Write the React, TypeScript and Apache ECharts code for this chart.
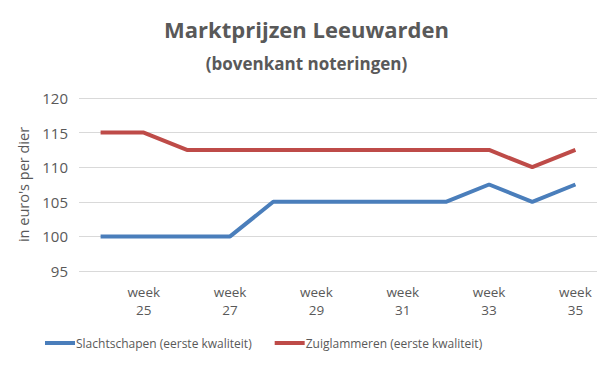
import React, { useEffect, useRef } from "react";
import * as echarts from "echarts";

const weeks = ["24", "25", "26", "27", "28", "29", "30", "31", "32", "33", "34", "35"];
const slachtschapen = [100, 100, 100, 100, 105, 105, 105, 105, 105, 107.5, 105, 107.5];
const zuiglammeren = [115, 115, 112.5, 112.5, 112.5, 112.5, 112.5, 112.5, 112.5, 112.5, 110, 112.5];
const seriesNames = ["Slachtschapen (eerste kwaliteit)", "Zuiglammeren (eerste kwaliteit)"];

export default function App() {
  const ref = useRef<HTMLDivElement>(null);
  useEffect(() => {
    const chart = echarts.init(ref.current!, undefined, { renderer: "svg" });
    const font = "'Open Sans', sans-serif";
    chart.setOption({
      animation: false,
      backgroundColor: "#ffffff",
      title: [
        {
          text: "Marktprijzen Leeuwarden",
          left: "center",
          top: 13,
          textStyle: { fontFamily: font, fontSize: 22, fontWeight: "bold", color: "#595959" },
        },
        {
          text: "(bovenkant noteringen)",
          left: "center",
          top: 50,
          textStyle: { fontFamily: font, fontSize: 17, fontWeight: "bold", color: "#595959" },
        },
      ],
      legend: {
        bottom: 16,
        left: 45,
        padding: 0,
        itemWidth: 30,
        itemHeight: 4,
        itemGap: 23,
        icon: "rect",
        textStyle: { fontFamily: font, fontSize: 12, color: "#595959", padding: [0, 0, 0, -4] },
        data: seriesNames,
      },
      grid: { left: 79, right: 16, top: 98, bottom: 94 },
      xAxis: {
        type: "category",
        data: weeks,
        boundaryGap: true,
        axisLine: { show: false },
        axisTick: { show: false },
        axisLabel: {
          interval: (idx: number) => idx % 2 === 1,
          formatter: (v: string) => "week\n" + v,
          fontFamily: font,
          fontSize: 13.5,
          color: "#595959",
          lineHeight: 18,
          margin: 12,
        },
      },
      yAxis: {
        type: "value",
        min: 95,
        max: 120,
        interval: 5,
        name: "in euro's per dier",
        nameLocation: "middle",
        nameGap: 45,
        nameTextStyle: { fontFamily: font, fontSize: 14.5, color: "#595959" },
        axisLine: { show: false },
        axisTick: { show: false },
        axisLabel: { fontFamily: font, fontSize: 15, color: "#595959", margin: 11 },
        splitLine: { lineStyle: { color: "#d9d9d9", width: 1 } },
      },
      series: [
        {
          name: seriesNames[0],
          type: "line",
          data: slachtschapen,
          symbol: "none",
          lineStyle: { color: "#4a7ebb", width: 4 },
          itemStyle: { color: "#4a7ebb" },
        },
        {
          name: seriesNames[1],
          type: "line",
          data: zuiglammeren,
          symbol: "none",
          lineStyle: { color: "#be4b48", width: 4 },
          itemStyle: { color: "#be4b48" },
        },
      ],
    });
    return () => chart.dispose();
  }, []);
  return (
    <div
      ref={ref}
      style={{ position: "absolute", left: 0, top: 0, width: 613, height: 365 }}
    />
  );
}
